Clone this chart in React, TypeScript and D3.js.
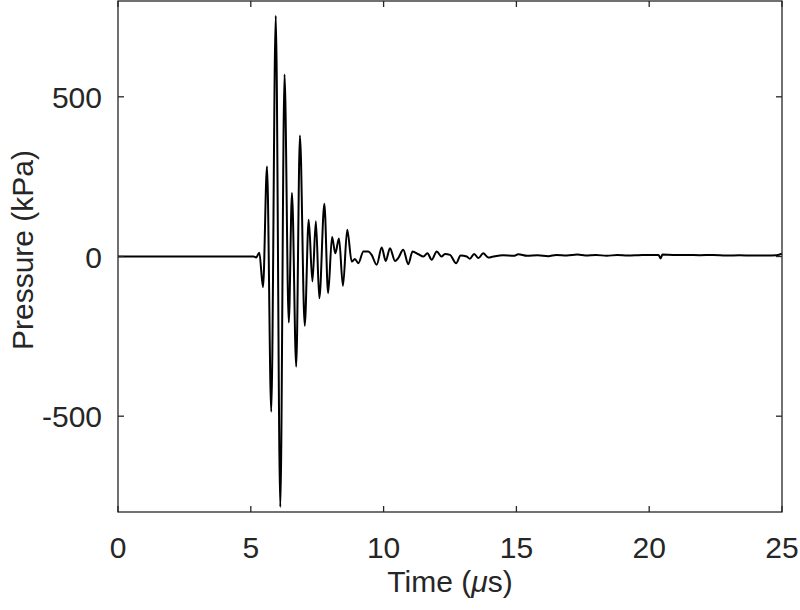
import React from 'react';
import * as d3 from 'd3';

// pressure waveform (time in microseconds, pressure in kPa)
const timeUs = [
  0, 5.1, 5.2, 5.32, 5.46, 5.61, 5.77, 5.94, 6.11, 6.27, 6.43, 6.55, 6.71, 6.85,
  7.03, 7.18, 7.32, 7.45, 7.58, 7.77, 7.91, 8.06, 8.18, 8.32, 8.47, 8.63, 8.8,
  8.92, 9.05, 9.24, 9.42, 9.55, 9.74, 9.93, 10.08, 10.24, 10.43, 10.55, 10.74,
  10.93, 11.09, 11.31, 11.5, 11.65, 11.81, 12.0, 12.18, 12.31, 12.5, 12.73, 12.9,
  13.13, 13.25, 13.41, 13.57, 13.75, 13.94, 14.13, 14.5, 14.9, 15.07, 15.4, 15.8,
  16.2, 16.5, 16.9, 17.3, 17.6, 18.0, 18.4, 18.8, 19.2, 19.6, 20.0, 20.35, 20.43,
  20.5, 20.9, 21.4, 21.9, 22.4, 22.9, 23.4, 23.9, 24.4, 24.8, 25,
];
const pressureKPa = [
  0, 0, -3, 12, -96, 282, -486, 754, -784, 570, -207, 199, -345, 379,
  -217, 115, -78, 110, -131, 165, -115, 61, 10, 56, -92, 84, -16,
  -8, -21, 16, 16, 5, -26, 28, -14, 26, -14, -5, 21,
  -24, 16, 7, 0, 10, -10, 16, 0, 8, 5, -21, 3,
  0, -7, 8, -5, 10, -3, 0, 4, 2, 7, 2, 4,
  1, 5, 3, 6, 3, 5, 2, 5, 3, 4, 5, 5, -6,
  6, 5, 5, 4, 5, 3, 4, 3, 3, 4, 9,
];
const xTicks = [0, 5, 10, 15, 20, 25];
const yTicks = [-500, 0, 500];

const width = 800;
const height = 610;
const margin = { left: 118, right: 18, top: 1, bottom: 98 };
const axisColor = '#262626';
const font = '"Liberation Sans", Arial, Helvetica, sans-serif';

export default function App() {
  const w = width - margin.left - margin.right;
  const h = height - margin.top - margin.bottom;

  const xScale = d3.scaleLinear().domain([0, 25]).range([0, w]);
  const yScale = d3.scaleLinear().domain([-800, 800]).range([h, 0]);

  const points: [number, number][] = timeUs.map((t, i) => [t, pressureKPa[i]]);
  const line = d3
    .line<[number, number]>()
    .x((d) => xScale(d[0]))
    .y((d) => yScale(d[1]))
    .curve(d3.curveMonotoneX);

  const tick = 6;

  return (
    <svg
      width={width}
      height={height}
      style={{ position: 'absolute', left: 0, top: 0, background: '#fff' }}
      fontFamily={font}
    >
      <g transform={`translate(${margin.left}, ${margin.top})`}>
        <path d={line(points) || ''} fill="none" stroke="#000" strokeWidth={2} strokeLinejoin="round" />

        {/* box */}
        <rect x={0} y={0} width={w} height={h} fill="none" stroke={axisColor} strokeWidth={1.3} />

        {/* x ticks, bottom and top, pointing inward */}
        {xTicks.map((t) => (
          <g key={`x${t}`}>
            <line x1={xScale(t)} x2={xScale(t)} y1={h} y2={h - tick} stroke={axisColor} strokeWidth={1.3} />
            <line x1={xScale(t)} x2={xScale(t)} y1={0} y2={tick} stroke={axisColor} strokeWidth={1.3} />
            <text x={xScale(t)} y={h + 46} textAnchor="middle" fontSize={30} fill={axisColor}>
              {t}
            </text>
          </g>
        ))}

        {/* y ticks, left and right */}
        {yTicks.map((v) => (
          <g key={`y${v}`}>
            <line x1={0} x2={tick} y1={yScale(v)} y2={yScale(v)} stroke={axisColor} strokeWidth={1.3} />
            <line x1={w} x2={w - tick} y1={yScale(v)} y2={yScale(v)} stroke={axisColor} strokeWidth={1.3} />
            <text x={-16} y={yScale(v) + 11} textAnchor="end" fontSize={30} fill={axisColor}>
              {v}
            </text>
          </g>
        ))}
      </g>

      <text x={450} y={592} textAnchor="middle" fontSize={30} fill={axisColor}>
        Time (<tspan fontStyle="italic">μ</tspan>s)
      </text>
      <text transform="translate(33, 250) rotate(-90)" textAnchor="middle" fontSize={30} fill={axisColor}>
        Pressure (kPa)
      </text>
    </svg>
  );
}
